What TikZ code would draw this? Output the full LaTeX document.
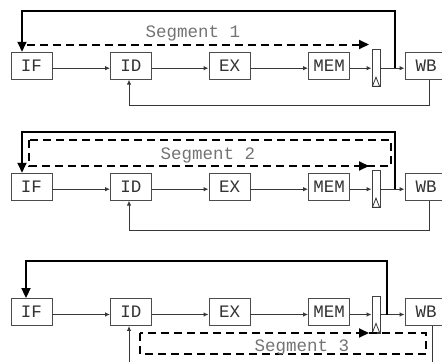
\documentclass[tikz,border=0pt]{standalone}
\usepackage{fontspec}
\setmonofont{Liberation Mono}
\usetikzlibrary{arrows.meta}
\begin{document}
\begin{tikzpicture}[x=1pt,y=-1pt,
  stage/.style={draw=black!70, line width=0.9pt, minimum width=41pt, minimum height=27pt,
    inner sep=0pt, font=\ttfamily\fontsize{17.5}{17.5}\selectfont, text=black!80},
  latch/.style={draw=black!75, line width=0.9pt, minimum width=8pt, minimum height=37pt, inner sep=0pt},
  wire/.style={draw=black!78, line width=0.9pt, -{Latex[length=5pt,width=4.5pt]}},
  bus/.style={line width=2pt, -{Triangle[length=10pt,width=9pt]}},
  seg/.style={line width=2pt, dash pattern=on 8pt off 5pt},
  segtip/.style={line width=2pt, -{Triangle[length=10pt,width=9pt]}},
  seglabel/.style={font=\ttfamily\fontsize{17.5}{17.5}\selectfont, text=black!55}]
\useasboundingbox (0,0) rectangle (442,362);
\newcommand\piperow[2]{%
  \node[stage] (IF#1) at (31.5,#2) {IF};
  \node[stage] (ID#1) at (131,#2) {ID};
  \node[stage] (EX#1) at (229.5,#2) {EX};
  \node[stage] (MEM#1) at (329,#2) {MEM};
  \node[latch] (L#1) at (376,#2+2.5) {};
  \node[stage, minimum width=42pt] (WB#1) at (426,#2) {WB};
  \draw[wire] ([yshift=-2.5pt]IF#1.east) -- ([yshift=-2.5pt]ID#1.west);
  \draw[wire] ([yshift=-2.5pt]ID#1.east) -- ([yshift=-2.5pt]EX#1.west);
  \draw[wire] ([yshift=-2.5pt]EX#1.east) -- ([yshift=-2.5pt]MEM#1.west);
  \draw[wire] ([yshift=-2.5pt]MEM#1.east) -- (L#1.west);
  \draw[wire] (L#1.east) -- ([yshift=-2.5pt]WB#1.west);
  \draw[draw=black!80, line width=0.8pt] ([xshift=0.9pt,yshift=1pt]L#1.south west)
     -- ([yshift=10pt]L#1.south) -- ([xshift=-0.9pt,yshift=1pt]L#1.south east) -- cycle;
}
% ---------- Panel 1 ----------
\piperow{a}{65.7}
\coordinate (Ja) at (395,68.2);
\coordinate (Ta) at (395,10.7);
\draw[bus] (Ja) -- (Ta) -| ([xshift=-9.5pt]IFa.north);
\draw[wire] ([xshift=3pt]WBa.south) -- ++(0,25.5) -| ([xshift=-2pt]IDa.south);
\coordinate (Da) at (27,44.5);
\coordinate (Ea) at (369,44.5);
\draw[seg] (Da) -- ([xshift=-9pt]Ea);
\draw[segtip] ([xshift=-10pt]Ea) -- (Ea);
\node[seglabel] (Sa) at (193,33) {Segment 1};
% ---------- Panel 2 ----------
\piperow{b}{186.7}
\coordinate (Jb) at (395,189.2);
\coordinate (Tb) at (395,131.7);
\draw[bus] (Jb) -- (Tb) -| ([xshift=-9.5pt]IFb.north);
\draw[wire] ([xshift=3pt]WBb.south) -- ++(0,30) -| ([xshift=-2pt]IDb.south);
\coordinate (Db1) at (29,140);
\coordinate (Db2) at (391,166);
\draw[seg] (Db1) rectangle (Db2);
\coordinate (Eb) at (369,166);
\draw[segtip] ([xshift=-10pt]Eb) -- (Eb);
\node[seglabel] (Sb) at (208,155) {Segment 2};
% ---------- Panel 3 ----------
\piperow{c}{312}
\coordinate (Jc) at (387,314.5);
\coordinate (Tc) at (387,261);
\draw[bus] (Jc) -- (Tc) -| ([xshift=-5.5pt]IFc.north);
\coordinate (Fc) at (432,362);
\draw[draw=black!78, line width=0.9pt] ([xshift=6pt]WBc.south) -- (Fc);
\coordinate (Gc) at (129,362);
\draw[wire] (Gc) -- ([xshift=-2pt]IDc.south);
\coordinate (Dc1) at (140,333);
\coordinate (Dc2) at (426,354);
\draw[seg] (Dc1) rectangle (Dc2);
\coordinate (Ec) at (369,333);
\draw[segtip] ([xshift=-10pt]Ec) -- (Ec);
\node[seglabel] (Sc) at (302,347) {Segment 3};
\end{tikzpicture}
\end{document}
